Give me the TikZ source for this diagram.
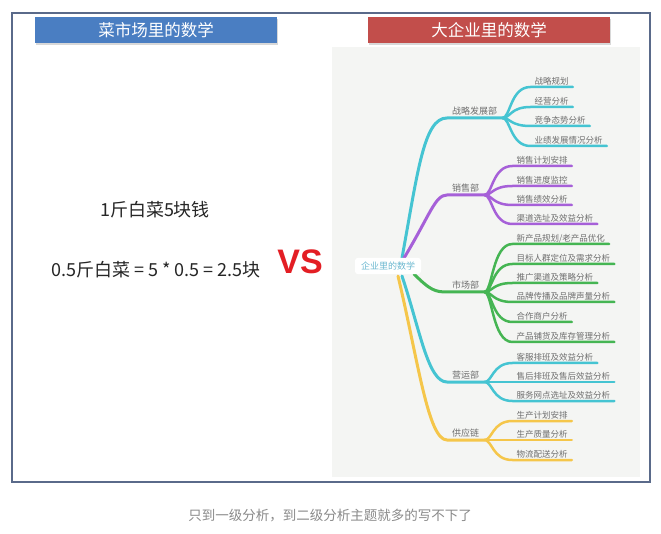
\documentclass[tikz,border=0pt]{standalone}
\usepackage{fontspec}
\newfontfamily\cjk{Noto Sans CJK SC}
\newfontfamily\vsfont{Liberation Sans}
\usetikzlibrary{calc,shadows}
\definecolor{framec}{HTML}{5A6A8A}
\definecolor{bluehd}{HTML}{4A7EC2}
\definecolor{redhd}{HTML}{C24E4B}
\definecolor{vsred}{HTML}{E31E24}
\definecolor{mmbg}{HTML}{F4F5F3}
\definecolor{txtgray}{HTML}{6E6E6E}
\definecolor{roottxt}{HTML}{6BB8D0}
\definecolor{cyanl}{HTML}{45C4D2}
\definecolor{purpl}{HTML}{A660D8}
\definecolor{greenl}{HTML}{45B553}
\definecolor{yellowl}{HTML}{F5C64A}
\definecolor{capgray}{HTML}{8A8A8A}
\pgfdeclarelayer{bg}
\pgfdeclarelayer{lines}
\pgfsetlayers{bg,lines,main}
\tikzset{
  header/.style={minimum width=242pt, minimum height=26pt, inner sep=0pt,
    text=white, font=\cjk\fontsize{16.5}{18}\selectfont,
    drop shadow={opacity=0.3, shadow xshift=0.5pt, shadow yshift=-2pt}},
  bigtxt/.style={font=\cjk\fontsize{18}{20}\selectfont, text=black!85, inner sep=0pt},
  rootnode/.style={fill=white, rounded corners=3pt, inner xsep=6pt, inner ysep=4pt,
    font=\cjk\fontsize{9}{11}\selectfont, text=roottxt},
  lone/.style={anchor=south west, inner xsep=5pt, inner ysep=2.5pt, text depth=0.5pt,
    font=\cjk\fontsize{9}{11}\selectfont, text=txtgray},
  ch/.style={anchor=south west, inner xsep=4pt, inner ysep=1.5pt, text depth=0.5pt,
    font=\cjk\fontsize{8.5}{10}\selectfont, text=txtgray},
  mainline/.style={line width=3pt, line cap=round},
  chline/.style={line width=2.5pt, line cap=round},
}
\begin{document}
\begin{tikzpicture}[x=1pt,y=-1pt]
\useasboundingbox (0,0) rectangle (661,534);
\begin{pgfonlayer}{bg}
\fill[white] (0,0) rectangle (661,534);
\fill[mmbg] (332,47) rectangle (640,477);
\end{pgfonlayer}
% frame
\draw[framec, line width=2pt] (12,13) rectangle (650,482);
% headers
\node[header, fill=bluehd] (hl) at (156,30) {菜市场里的数学};
\node[header, fill=redhd] (hr) at (489,30) {大企业里的数学};
% left texts
\node[bigtxt] (t1) at (155,210) {1斤白菜5块钱};
\node[bigtxt] (t2) at (156,270) {0.5斤白菜 = 5 * 0.5 = 2.5块};
\node[inner sep=0pt, text=vsred, font=\vsfont\bfseries\fontsize{34}{36}\selectfont] (vs) at (300,262) {VS};
% caption
\node[inner sep=0pt, text=capgray, font=\cjk\fontsize{13.5}{15}\selectfont] (cap) at (330,516) {只到一级分析，到二级分析主题就多的写不下了};
% root
\node[rootnode] (root) at (388,266) {企业里的数学};
% level one
\node[lone] (zl) at (447,118) {战略发展部};
\node[lone] (xs) at (447,195) {销售部};
\node[lone] (sc) at (447,292) {市场部};
\node[lone] (yy) at (447,382) {营运部};
\node[lone] (gy) at (447,440) {供应链};
% children of zl
\node[ch] (zl1) at ($(zl.south east)+(28,-31)$) {战略规划};
\node[ch] (zl2) at ($(zl.south east)+(28,-11)$) {经营分析};
\node[ch] (zl3) at ($(zl.south east)+(28,8)$) {竞争态势分析};
\node[ch] (zl4) at ($(zl.south east)+(28,28)$) {业绩发展情况分析};
% children of xs
\node[ch] (xs1) at ($(xs.south east)+(28,-29)$) {销售计划安排};
\node[ch] (xs2) at ($(xs.south east)+(28,-9)$) {销售进度监控};
\node[ch] (xs3) at ($(xs.south east)+(28,10)$) {销售绩效分析};
\node[ch] (xs4) at ($(xs.south east)+(28,29)$) {渠道选址及效益分析};
% children of sc
\node[ch] (sc1) at ($(sc.south east)+(28,-48)$) {新产品规划/老产品优化};
\node[ch] (sc2) at ($(sc.south east)+(28,-28)$) {目标人群定位及需求分析};
\node[ch] (sc3) at ($(sc.south east)+(28,-9)$) {推广渠道及策略分析};
\node[ch] (sc4) at ($(sc.south east)+(28,10)$) {品牌传播及品牌声量分析};
\node[ch] (sc5) at ($(sc.south east)+(28,30)$) {合作商户分析};
\node[ch] (sc6) at ($(sc.south east)+(28,50)$) {产品铺货及库存管理分析};
% children of yy
\node[ch] (yy1) at ($(yy.south east)+(28,-19)$) {客服排班及效益分析};
\node[ch] (yy2) at ($(yy.south east)+(28,0)$) {售后排班及售后效益分析};
\node[ch] (yy3) at ($(yy.south east)+(28,19)$) {服务网点选址及效益分析};
% children of gy
\node[ch] (gy1) at ($(gy.south east)+(28,-19)$) {生产计划安排};
\node[ch] (gy2) at ($(gy.south east)+(28,0)$) {生产质量分析};
\node[ch] (gy3) at ($(gy.south east)+(28,20)$) {物流配送分析};
\begin{pgfonlayer}{lines}
% root to level one
\draw[mainline, cyanl] ($(root.center)+(14,-8)$) .. controls (418,170) and (424,118) .. (zl.south west) -- (zl.south east);
\draw[mainline, purpl] ($(root.center)+(16,-8)$) .. controls (430,215) and (435,195) .. (xs.south west) -- (xs.south east);
\draw[mainline, greenl] ($(root.center)+(26,8)$) .. controls (430,290) and (435,292) .. (sc.south west) -- (sc.south east);
\draw[mainline, cyanl] ($(root.center)+(14,10)$) .. controls (420,330) and (428,382) .. (yy.south west) -- (yy.south east);
\draw[mainline, yellowl] ($(root.center)+(10,10)$) .. controls (418,360) and (428,440) .. (gy.south west) -- (gy.south east);
% level one to children
\foreach \p/\c in {zl/zl1,zl/zl2,zl/zl3,zl/zl4}{
  \draw[chline, cyanl] (\p.south east) .. controls +(8,0) and +(-20,0) .. (\c.south west) -- (\c.south east);}
\foreach \p/\c in {xs/xs1,xs/xs2,xs/xs3,xs/xs4}{
  \draw[chline, purpl] (\p.south east) .. controls +(8,0) and +(-20,0) .. (\c.south west) -- (\c.south east);}
\foreach \p/\c in {sc/sc1,sc/sc2,sc/sc3,sc/sc4,sc/sc5,sc/sc6}{
  \draw[chline, greenl] (\p.south east) .. controls +(8,0) and +(-20,0) .. (\c.south west) -- (\c.south east);}
\foreach \p/\c in {yy/yy1,yy/yy2,yy/yy3}{
  \draw[chline, cyanl] (\p.south east) .. controls +(8,0) and +(-20,0) .. (\c.south west) -- (\c.south east);}
\foreach \p/\c in {gy/gy1,gy/gy2,gy/gy3}{
  \draw[chline, yellowl] (\p.south east) .. controls +(8,0) and +(-20,0) .. (\c.south west) -- (\c.south east);}
\end{pgfonlayer}
\end{tikzpicture}
\end{document}
